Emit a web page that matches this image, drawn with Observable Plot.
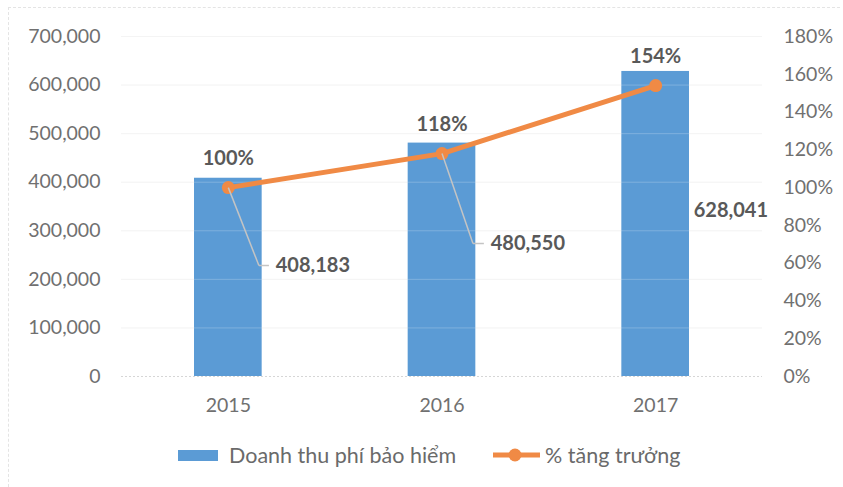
<!DOCTYPE html>
<html>
<head>
<meta charset="utf-8">
<script src="https://cdn.jsdelivr.net/npm/d3@7"></script>
<script src="https://cdn.jsdelivr.net/npm/@observablehq/plot@0.6"></script>
<style>
  html, body { margin: 0; padding: 0; background: #ffffff; }
  body { width: 843px; height: 487px; position: relative; overflow: hidden; font-family: Lato, "Open Sans", sans-serif; }
  #frame { position: absolute; left: 8px; top: 7px; width: 832px; height: 485px; border-top: 1px dashed #e4e4e4; border-left: 1px dashed #e4e4e4; box-sizing: border-box; pointer-events: none; }
  #chart { position: absolute; left: 0; top: 0; }
  #legend { position: absolute; left: 178px; top: 442px; display: flex; align-items: center; font-size: 21.5px; color: #6a6a6a; }
  .item { display: flex; align-items: center; }
  .sw { width: 40px; height: 11px; background: #5b9bd5; margin-right: 11px; }
</style>
</head>
<body>
<div id="frame"></div>
<div id="chart"></div>
<div id="legend">
  <div class="item"><div class="sw"></div><span>Doanh thu phí bảo hiểm</span></div>
  <div class="item" style="margin-left:37px">
    <svg width="47" height="14" style="margin-right:5px"><line x1="0" y1="7" x2="47" y2="7" stroke="#f08a45" stroke-width="5"/><circle cx="22" cy="7" r="6.5" fill="#f08a45"/></svg>
    <span>% tăng trưởng</span>
  </div>
</div>
<script>
// ---- data ----
const years = [2015, 2016, 2017];
const revenue = [408183, 480550, 628041];          // Doanh thu phí bảo hiểm
const growth = [1.00, 1.18, 1.54];                 // % tăng trưởng
const leftTicks = [0, 100000, 200000, 300000, 400000, 500000, 600000, 700000];
const rightTicks = [0, 0.2, 0.4, 0.6, 0.8, 1.0, 1.2, 1.4, 1.6, 1.8];

const data = years.map((year, i) => ({year, revenue: revenue[i], growth: growth[i]}));

// ---- dual axis mapping ----
const YMAX = 700000, PMAX = 1.8;
const toY = p => p * YMAX / PMAX;

// ---- label layout (placement of value labels, in axis units) ----
const labelLayout = [
  {ly: 228500, ex: 0.143, hx: 0.190, tx: 0.222, leader: true},
  {ly: 273800, ex: 0.145, hx: 0.196, tx: 0.228, leader: true},
  {ly: 341800, ex: 0,     hx: 0,     tx: 0.178, leader: false}
];
const labels = data.map((d, i) => ({...d, ...labelLayout[i]}));
const leaders = labels.filter(d => d.leader);

const BLUE = "#5b9bd5", ORANGE = "#f08a45", LABEL = "#595959";

const chart = Plot.plot({
  width: 843,
  height: 430,
  marginTop: 36,
  marginBottom: 54,
  marginLeft: 121,
  marginRight: 81,
  x: {type: "linear", domain: [2014.5, 2017.5]},
  y: {domain: [0, YMAX]},
  style: {fontFamily: "Lato, 'Open Sans', sans-serif", fontSize: "19.5px", color: "#707070", background: "transparent", overflow: "visible"},
  marks: [
    Plot.ruleY(leftTicks.slice(1), {stroke: "#f1f1f1"}),
    Plot.rectY(data, {x1: d => d.year - 0.5, x2: d => d.year + 0.5, y: "revenue", insetLeft: 73, insetRight: 73, fill: BLUE}),
    Plot.ruleY(leftTicks.slice(1), {stroke: "#ffffff", strokeOpacity: 0.22}),
    Plot.ruleY([0], {stroke: "#d6d6d6", strokeDasharray: "2,2"}),
    Plot.axisY(leftTicks, {anchor: "left", tickSize: 0, tickPadding: 21, tickFormat: d3.format(","), label: null}),
    Plot.axisY(rightTicks.map(toY), {anchor: "right", tickSize: 0, tickPadding: 21, tickFormat: v => Math.round(v / YMAX * PMAX * 100) + "%", label: null}),
    Plot.axisX(years, {tickSize: 0, tickPadding: 22, tickFormat: d => String(d), label: null}),
    Plot.line(data, {x: "year", y: d => toY(d.growth), stroke: ORANGE, strokeWidth: 5, strokeLinecap: "round"}),
    Plot.dot(data, {x: "year", y: d => toY(d.growth), r: 6.5, fill: ORANGE}),
    Plot.link(leaders, {x1: "year", y1: d => toY(d.growth), x2: d => d.year + d.ex, y2: "ly", stroke: "#c4c4c4", strokeWidth: 1.5}),
    Plot.link(leaders, {x1: d => d.year + d.ex, y1: "ly", x2: d => d.year + d.hx, y2: "ly", stroke: "#c4c4c4", strokeWidth: 1.5}),
    Plot.text(data, {x: "year", y: d => toY(d.growth), dy: -29, text: d => Math.round(d.growth * 100) + "%", fontWeight: "bold", fill: LABEL, fontSize: 20}),
    Plot.text(labels, {x: d => d.year + d.tx, y: "ly", text: d => d3.format(",")(d.revenue), textAnchor: "start", fontWeight: "bold", fill: LABEL, fontSize: 20})
  ]
});
document.getElementById("chart").appendChild(chart);
</script>
</body>
</html>
